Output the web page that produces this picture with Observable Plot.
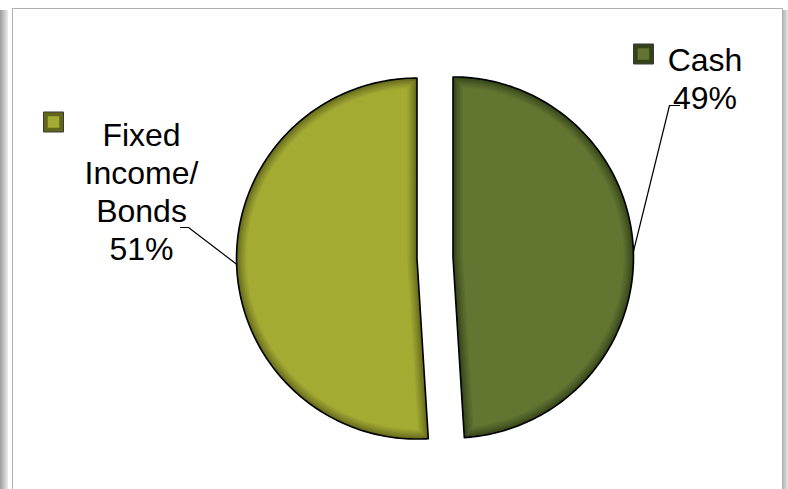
<!DOCTYPE html>
<html><head><meta charset="utf-8">
<script src="https://cdn.jsdelivr.net/npm/d3@7"></script>
<script src="https://cdn.jsdelivr.net/npm/@observablehq/plot@0.6"></script>
<style>
html,body{margin:0;padding:0;background:#fff;overflow:hidden}
#wrap{position:relative;width:788px;height:489px;overflow:hidden}
#chart{position:absolute;left:0;top:0}
.lbar{position:absolute;left:0;top:10px;width:8px;height:479px;background:linear-gradient(to right,#9c9c9c,#c8c8c8 55%,#ececec)}
.frame{position:absolute;left:12px;top:8px;width:771px;height:490px;border:1px solid #b0b0b0;border-bottom:none;box-sizing:border-box}
.rbar{position:absolute;left:783px;top:10px;width:5px;height:479px;background:linear-gradient(to right,#b8b8b8,#e6e6e6)}
</style></head>
<body>
<div id="wrap">
  <div class="lbar"></div>
  <div class="frame"></div>
  <div class="rbar"></div>
  <div id="chart"></div>
</div>
<script>
// ---- data ----
const categories = ["Cash", "Fixed Income/Bonds"];
const values = [49, 51];
const labelNames = [["Cash"], ["Fixed", "Income/", "Bonds"]];
const mainColors = ["#627531", "#a4ab33"];
const rimColors = ["#34421a", "#62661c"];

// ---- layout (pixels) ----
const W = 788, H = 489;
const R_PX = 180.5, CX = 434.5, CY = 257.5, EXPLODE_PX = 18;
const toX = p => (p - CX) / R_PX;
const toY = p => (CY - p) / R_PX;
const u = p => p / R_PX;

// label placement per slice (pixel space)
const labelLayout = [
  {tx: 704.5, ty: 43, marker: [643, 53.5], elbow: [[669, 105], [679, 105]]},
  {tx: 141, ty: 118, marker: [53, 121.5], elbow: [[188, 227], [180, 227]]}
];

const total = d3.sum(values);
const arcs = d3.pie().sort(null).startAngle(0).endAngle(2 * Math.PI)(values);

function sliceCenter(a) {
  const mid = (a.startAngle + a.endAngle) / 2;
  return [Math.sin(mid) * u(EXPLODE_PX), Math.cos(mid) * u(EXPLODE_PX), mid];
}

function slicePoints(a, insetPx) {
  const [ox, oy, mid] = sliceCenter(a);
  const inset = u(insetPx);
  const r = 1 - inset;
  const half = (a.endAngle - a.startAngle) / 2;
  const cshift = insetPx > 0 ? inset / Math.sin(half) : 0;
  const cx = ox + Math.sin(mid) * cshift, cy = oy + Math.cos(mid) * cshift;
  const d = insetPx > 0 ? Math.asin(inset / r) : 0;
  const a0 = a.startAngle + d, a1 = a.endAngle - d;
  const pts = [{x: cx, y: cy}];
  const N = 180;
  for (let k = 0; k <= N; k++) {
    const t = a0 + (a1 - a0) * k / N;
    pts.push({x: ox + Math.sin(t) * r, y: oy + Math.cos(t) * r});
  }
  pts.push({x: cx, y: cy});
  return pts;
}

const marks = [];
const LAYERS = 7, STEP = 1.4;
arcs.forEach((a, i) => {
  const interp = d3.interpolateRgb(rimColors[i], mainColors[i]);
  for (let k = 0; k <= LAYERS; k++) {
    const t = k / LAYERS;
    marks.push(Plot.line(slicePoints(a, k * STEP), {
      x: "x", y: "y",
      fill: interp(Math.pow(t, 0.8)),
      stroke: k === 0 ? "#000" : "none",
      strokeWidth: k === 0 ? 1.6 : 0,
      curve: "linear"
    }));
  }
});

// leader lines
arcs.forEach((a, i) => {
  const [ox, oy, mid] = sliceCenter(a);
  const L = labelLayout[i];
  const pts = [{x: ox + Math.sin(mid), y: oy + Math.cos(mid)}]
    .concat(L.elbow.map(([px, py]) => ({x: toX(px), y: toY(py)})));
  marks.push(Plot.line(pts, {x: "x", y: "y", stroke: "#000", strokeWidth: 1.2}));
});

// legend keys
arcs.forEach((a, i) => {
  const L = labelLayout[i];
  const pt = [{x: toX(L.marker[0]), y: toY(L.marker[1])}];
  marks.push(Plot.dot(pt, {x: "x", y: "y", symbol: "square", r: 11.3, fill: rimColors[i], stroke: "#3a3a3a", strokeWidth: 1}));
  marks.push(Plot.dot(pt, {x: "x", y: "y", symbol: "square", r: 6.5, fill: mainColors[i], stroke: "none"}));
});

// labels
arcs.forEach((a, i) => {
  const L = labelLayout[i];
  const pct = Math.round(values[i] / total * 100) + "%";
  const txt = labelNames[i].concat([pct]).join("\n");
  marks.push(Plot.text([{x: toX(L.tx), y: toY(L.ty), t: txt}], {
    x: "x", y: "y", text: "t",
    textAnchor: "middle", lineAnchor: "top", lineHeight: 1.19,
    fontSize: 32, fontFamily: "Liberation Sans, Arial, sans-serif", fill: "#000"
  }));
});

const chart = Plot.plot({
  width: W, height: H, margin: 0,
  x: {domain: [toX(0), toX(W)], range: [0, W], axis: null},
  y: {domain: [toY(H), toY(0)], range: [H, 0], axis: null},
  style: {background: "transparent", overflow: "visible"},
  marks
});
document.getElementById("chart").appendChild(chart);
</script>
</body></html>
